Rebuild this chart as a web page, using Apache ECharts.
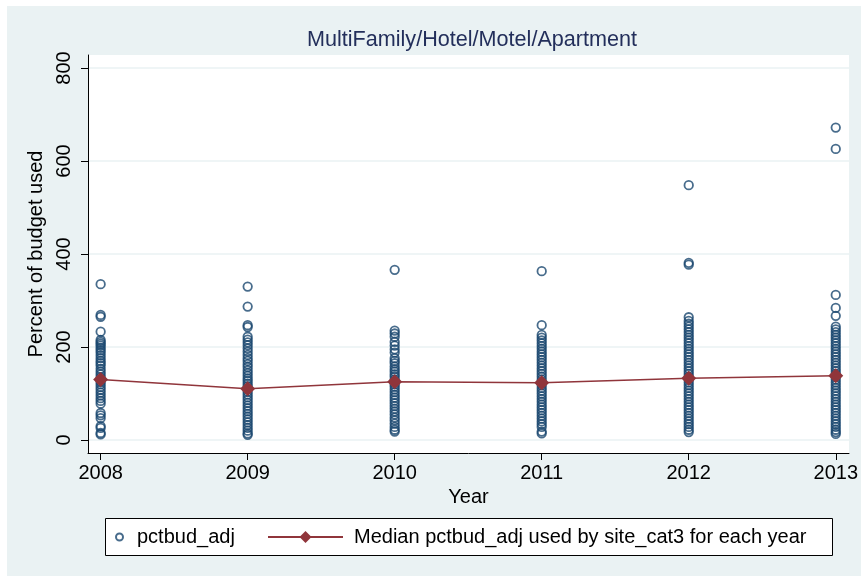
<!DOCTYPE html>
<html>
<head>
<meta charset="utf-8">
<script src="https://cdn.jsdelivr.net/npm/echarts@6/dist/echarts.min.js"></script>
<style>
  html, body { margin: 0; padding: 0; background: #fff; }
  #chart { width: 861px; height: 576px; }
</style>
</head>
<body>
<div id="chart"></div>
<script>
// values
var years = [2008, 2009, 2010, 2011, 2012, 2013];
var vals2008 = [335, 269, 265, 233, 215, 211, 207, 203, 198, 193, 188, 182, 176, 170, 165, 160, 153, 147, 141, 135, 130, 125, 120, 114, 108, 102, 96, 90, 84, 78, 58, 53, 47, 30, 26, 15, 12];
var vals2009 = [330, 287, 247, 243, 222, 216, 210, 204, 197, 190, 183, 176, 170, 163, 157, 150, 144, 138, 132, 127, 121, 116, 110, 104, 98, 92, 86, 80, 74, 68, 62, 56, 50, 44, 38, 32, 26, 20, 14, 11];
var vals2010 = [366, 235, 229, 222, 211, 203, 195, 188, 176, 170, 165, 158, 152, 147, 141, 136, 130, 120, 115, 109, 103, 97, 91, 85, 79, 73, 67, 61, 55, 48, 42, 35, 28, 22, 18];
var vals2011 = [363, 247, 226, 220, 214, 208, 202, 196, 190, 184, 178, 172, 166, 160, 154, 148, 142, 136, 130, 124, 118, 112, 106, 100, 94, 88, 82, 76, 70, 64, 58, 52, 46, 40, 34, 28, 18, 14];
var vals2012 = [548, 381, 377, 264, 256, 250, 244, 238, 232, 226, 220, 214, 208, 202, 196, 190, 184, 178, 172, 166, 160, 154, 148, 142, 136, 130, 124, 118, 112, 106, 100, 94, 88, 82, 76, 70, 64, 58, 52, 46, 40, 34, 28, 22, 17];
var vals2013 = [672, 626, 312, 284, 267, 244, 238, 232, 226, 220, 214, 208, 202, 196, 190, 184, 178, 172, 166, 160, 154, 148, 142, 136, 130, 124, 118, 112, 106, 100, 94, 88, 82, 76, 70, 64, 58, 52, 46, 40, 34, 28, 22, 17, 13];
var medians = [130, 110, 125, 123, 133, 138];
var yTicks = [0, 200, 400, 600, 800];

var FONT = '"Liberation Sans", Arial, sans-serif';
var NAVY = '#1a476f';
var MAROON = '#90353b';
var BG = '#eaf2f3';

var byYear = [vals2008, vals2009, vals2010, vals2011, vals2012, vals2013];
var points = [];
for (let i = 0; i < years.length; i++) {
    for (let j = 0; j < byYear[i].length; j++) {
        points.push([years[i], byYear[i][j]]);
    }
}
var medianPts = years.map((y, i) => [y, medians[i]]);

var chartDom = document.getElementById('chart');
var myChart = echarts.init(chartDom);
var option;

option = {
    backgroundColor: '#fff',
    animation: false,
    graphic: [
        { type: 'rect', shape: { x: 7, y: 6, width: 854, height: 570 }, style: { fill: BG }, z: -10 },
        {
            // overall title, cut off at the top edge of the picture
            type: 'text', x: 149, y: -15, z: 5,
            style: { text: 'Percent of budgets used by site category by year', font: 'bold 32px "Liberation Serif", serif', fill: '#000', verticalAlign: 'middle', align: 'left' }
        },
        { type: 'rect', shape: { x: 105.5, y: 518.5, width: 727, height: 37 }, style: { fill: '#fff', stroke: '#000', lineWidth: 1 }, z: 1 }
    ],
    title: {
        text: 'MultiFamily/Hotel/Motel/Apartment',
        left: 472,
        textAlign: 'center',
        top: 29,
        padding: 0,
        textStyle: { fontFamily: FONT, fontSize: 21.6, fontWeight: 'normal', color: '#232f5b' }
    },
    grid: {
        left: 88, top: 55, right: 9, bottom: 123,
        show: true, backgroundColor: '#fff', borderWidth: 0
    },
    legend: [
        {
            left: 115, top: 527, z: 5, padding: 0,
            itemWidth: 7, itemHeight: 7,
            data: ['pctbud_adj'],
            textStyle: { fontFamily: FONT, fontSize: 20, color: '#000', padding: [0, 0, 0, 9] }
        },
        {
            left: 267, top: 527, z: 5, padding: 0,
            itemWidth: 75, itemHeight: 15,
            data: ['Median pctbud_adj used by site_cat3 for each year'],
            textStyle: { fontFamily: FONT, fontSize: 20, color: '#000', padding: [0, 0, 0, 6] }
        }
    ],
    xAxis: {
        type: 'value',
        min: 2007.914,
        max: 2013.09,
        name: 'Year',
        nameLocation: 'middle',
        nameGap: 31,
        nameTextStyle: { fontFamily: FONT, fontSize: 20, color: '#000' },
        axisLine: { show: true, onZero: false, lineStyle: { color: '#000', width: 1 } },
        axisTick: { show: true, length: 7, customValues: years, lineStyle: { color: '#000' } },
        axisLabel: {
            customValues: years, margin: 10,
            fontFamily: FONT, fontSize: 20, color: '#000',
            formatter: v => String(v)
        },
        splitLine: { show: false }
    },
    yAxis: {
        type: 'value',
        min: -28,
        max: 828,
        name: 'Percent of budget used',
        nameLocation: 'middle',
        nameGap: 37,
        nameTextStyle: { fontFamily: FONT, fontSize: 20, color: '#000' },
        axisLine: { show: true, onZero: false, lineStyle: { color: '#000', width: 1 } },
        axisTick: { show: true, length: 7, customValues: yTicks, lineStyle: { color: '#000' } },
        axisLabel: {
            customValues: yTicks, rotate: 90, margin: 14,
            fontFamily: FONT, fontSize: 20, color: '#000'
        },
        splitLine: { show: true, lineStyle: { color: BG, width: 1.5 } }
    },
    series: [
        {
            type: 'scatter',
            name: 'pctbud_adj',
            data: points,
            symbol: 'circle',
            symbolSize: 8.5,
            itemStyle: { color: 'rgba(255,255,255,0)', borderColor: NAVY, borderWidth: 1.8 },
            z: 2
        },
        {
            type: 'line',
            name: 'Median pctbud_adj used by site_cat3 for each year',
            data: medianPts,
            symbol: 'diamond',
            symbolSize: 15,
            lineStyle: { color: MAROON, width: 1.5 },
            itemStyle: { color: MAROON },
            z: 3
        }
    ]
};
option && myChart.setOption(option);
</script>
</body>
</html>
